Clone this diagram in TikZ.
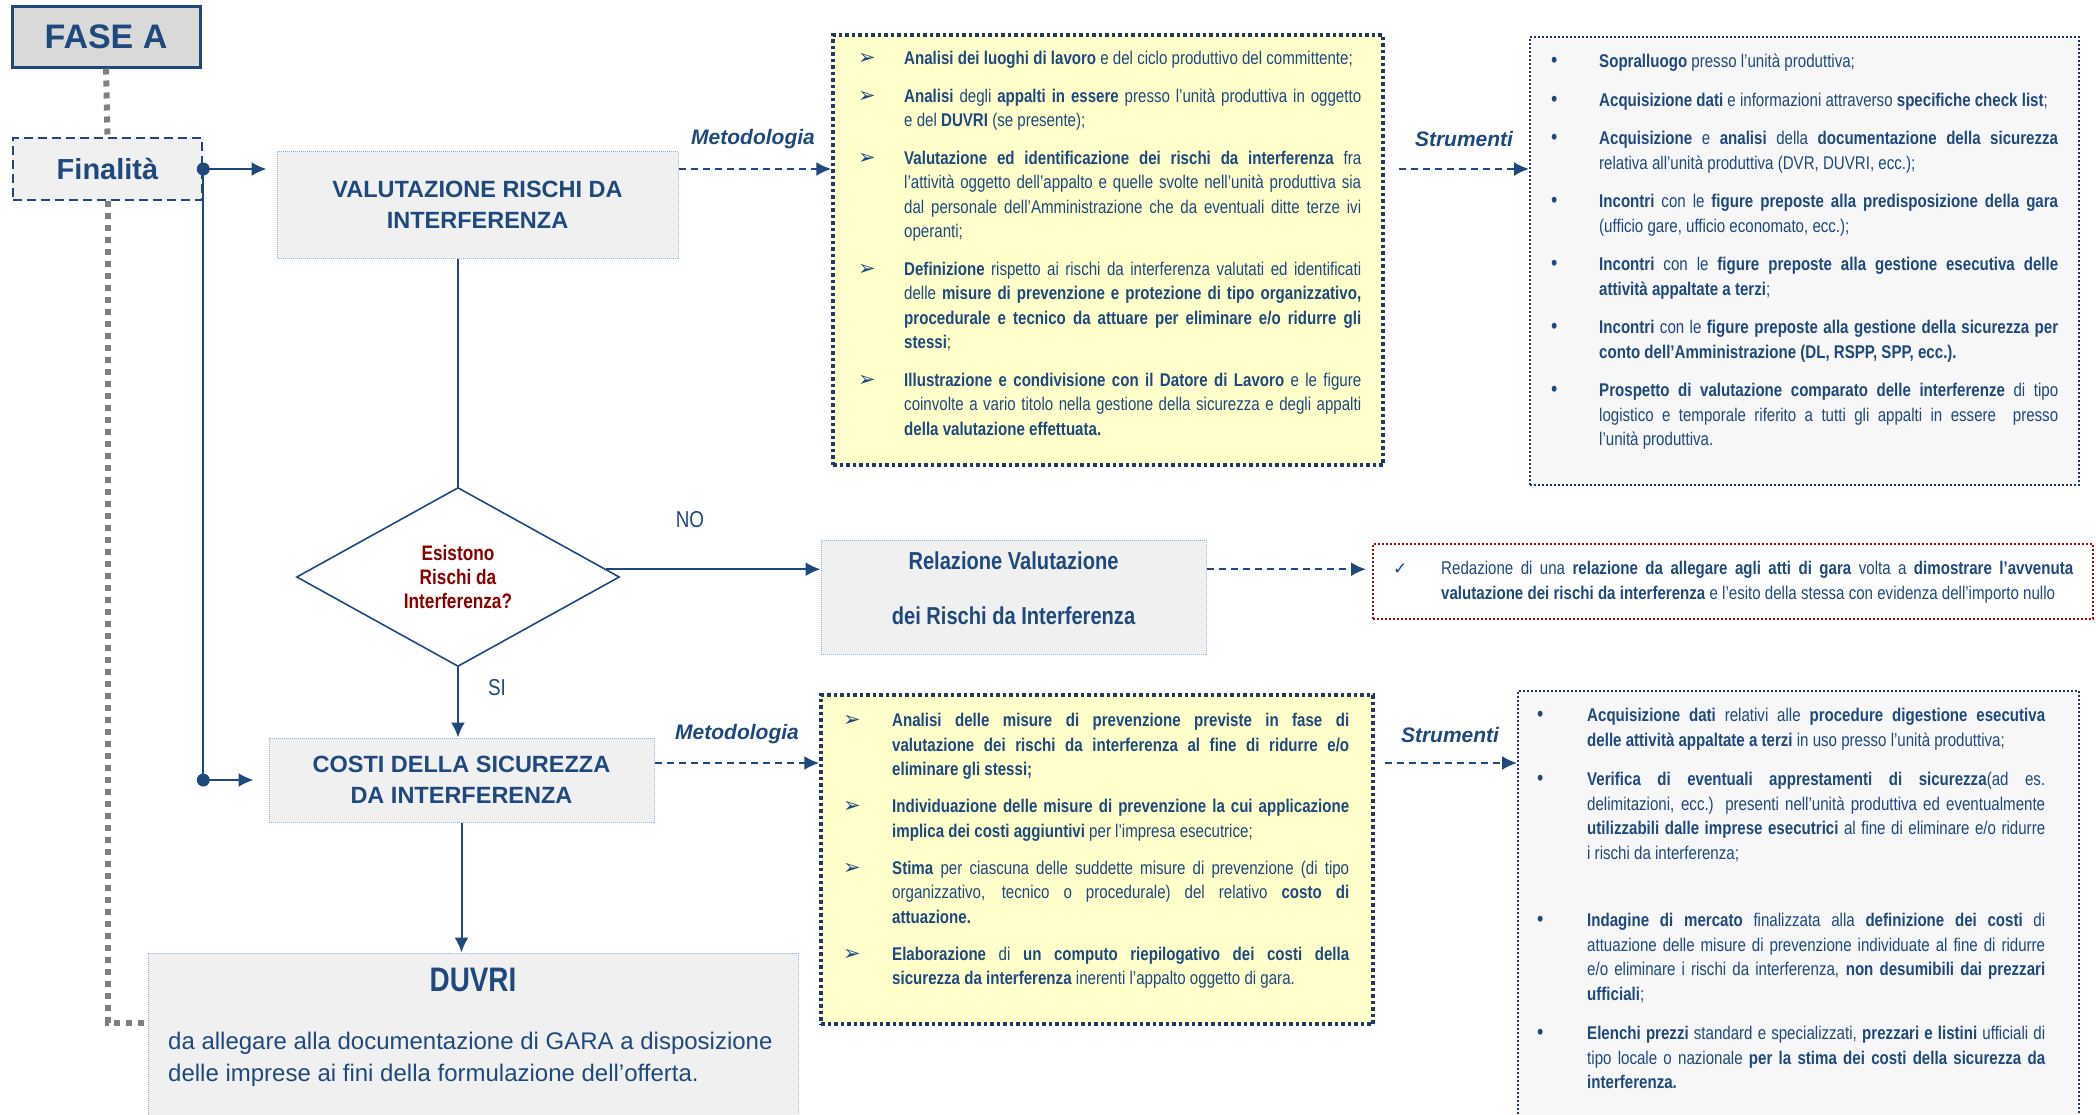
\documentclass[tikz,border=0pt]{standalone}
\usepackage{fontspec}
\setmainfont{Liberation Sans}
\newfontfamily\stretto[FakeStretch=0.82]{Liberation Sans}
\newfontfamily\simboli{DejaVu Sans}
\usetikzlibrary{arrows.meta,positioning,shapes.geometric}
\definecolor{blu}{HTML}{1F497D}
\definecolor{blunotte}{HTML}{1F3864}
\definecolor{giallino}{HTML}{FFFFCC}
\definecolor{grigino}{HTML}{F0F0F0}
\definecolor{grigiofase}{HTML}{D9D9D9}
\definecolor{bordoazzurro}{HTML}{8DB3E2}
\definecolor{rosso}{HTML}{C00000}
\definecolor{rossoscuro}{HTML}{8B0000}
\newlength{\rientro}
\newcommand{\voce}[2]{\par\hangindent=\rientro\hangafter=1\noindent\makebox[\rientro][l]{#1}#2\par}
\newcommand{\freccina}{{\simboli\fontsize{21}{21}\selectfont ➢}}
\newcommand{\pallino}{{\fontsize{22}{22}\selectfont •}}
\newcommand{\spunta}{{\simboli\fontsize{17}{17}\selectfont ✓}}
\hyphenpenalty=10000
\hbadness=10000

\begin{document}
\begin{tikzpicture}[x=1pt,y=-1pt,
box/.style={draw=bordoazzurro, densely dotted, line width=1pt, fill=grigino, text=blu, align=center, inner sep=0pt},
titolo/.style={font=\bfseries\fontsize{23.5}{31}\selectfont},
giallo/.style={draw=blunotte, fill=giallino, line width=3.5pt, dash pattern=on 3.5pt off 3pt},
strum/.style={draw=blunotte, fill=gray!6, line width=2pt, dash pattern=on 2pt off 2pt},
elenco/.style={anchor=north west, inner sep=0pt, text=blu, align=justify, text width=#1, font=\stretto\fontsize{18.4}{24.5}\selectfont},
filo/.style={draw=blu, line width=2pt},
freccia/.style={filo, -{Latex[length=15pt,width=14pt]}},
tratto/.style={freccia, dash pattern=on 7pt off 5pt},
puntini/.style={draw=gray, line width=6pt, dash pattern=on 6pt off 6pt},
etichetta/.style={text=blu, font=\bfseries\itshape\fontsize{21}{21}\selectfont}]

\useasboundingbox (0,0) rectangle (2096,1114);

\node[draw=blu, line width=3pt, fill=grigiofase, text=blu, font=\bfseries\fontsize{34}{34}\selectfont, minimum width=188, minimum height=61, inner sep=0] (fase) at (106,36.5) {FASE A};
\node[draw=blu, line width=2.5pt, dash pattern=on 9pt off 5pt, fill=grigino, text=blu, font=\bfseries\fontsize{29}{29}\selectfont, minimum width=189, minimum height=62, inner sep=0] (finalita) at (107.5,169) {Finalità};

\node[box, titolo, minimum width=401, minimum height=107] (valut) at (477.5,204.5) {VALUTAZIONE RISCHI DA\\INTERFERENZA};
\node[diamond, draw=blu, line width=1.6pt, fill=white, minimum width=323, minimum height=179, inner sep=0, text=rossoscuro, align=center, font=\stretto\bfseries\fontsize{21}{24}\selectfont] (rischi) at (458,577) {Esistono\\Rischi da\\Interferenza?};
\node[box, minimum width=385, minimum height=114, text depth=18pt, font=\stretto\bfseries\fontsize{24.5}{55}\selectfont] (relaz) at (1013.5,597) {Relazione Valutazione\\dei Rischi da Interferenza};
\node[box, titolo, minimum width=385, minimum height=84] (costi) at (461.5,780) {COSTI DELLA SICUREZZA\\DA INTERFERENZA};
\node[box, minimum width=650, minimum height=177] (duvri) at (473,1041.5) {};
\node[text=blu, font=\stretto\bfseries\fontsize{34}{34}\selectfont] (duvritit) at (473,980) {DUVRI};
\node[text=blu, anchor=west, align=left, inner sep=0, font=\fontsize{24}{32}\selectfont] (duvritesto) at (168,1059) {da allegare alla documentazione di GARA a disposizione\\delle imprese ai fini della formulazione dell’offerta.};

\node[giallo, minimum width=550, minimum height=430] (giallo1) at (1108,250) {};
\node[strum, minimum width=549, minimum height=448] (strum1) at (1804.5,261) {};
\node[draw=rosso, line width=2pt, dash pattern=on 2pt off 2pt, fill=white, minimum width=720, minimum height=75] (rossa) at (1733,581.5) {};
\node[giallo, minimum width=552, minimum height=329] (giallo2) at (1097,859.5) {};
\node[strum, minimum width=561, minimum height=449] (strum2) at (1798.5,915.5) {};

\node[elenco=503pt] (testo1) at (858,27) {\setlength{\rientro}{46pt}\setlength{\parskip}{13pt}%
\voce{\freccina}{\textbf{Analisi dei luoghi di lavoro} e del ciclo produttivo del committente;}
\voce{\freccina}{\textbf{Analisi} degli \textbf{appalti in essere} presso l’unità produttiva in oggetto\linebreak e del \textbf{DUVRI} (se presente);}
\voce{\freccina}{\textbf{Valutazione ed identificazione dei rischi da interferenza} fra\linebreak l’attività oggetto dell’appalto e quelle svolte nell’unità produttiva sia\linebreak dal personale dell’Amministrazione che da eventuali ditte terze ivi\linebreak operanti;}
\voce{\freccina}{\textbf{Definizione} rispetto ai rischi da interferenza valutati ed identificati\linebreak delle \textbf{misure di prevenzione e protezione di tipo organizzativo,\linebreak procedurale e tecnico da attuare per eliminare e/o ridurre gli\linebreak stessi};}
\voce{\freccina}{\textbf{Illustrazione e condivisione con il Datore di Lavoro} e le figure\linebreak coinvolte a vario titolo nella gestione della sicurezza e degli appalti\linebreak \textbf{della valutazione effettuata.}}};

\node[elenco=507pt] (testo2) at (1551,29) {\setlength{\rientro}{48pt}\setlength{\parskip}{14pt}%
\voce{\pallino}{\textbf{Sopralluogo} presso l’unità produttiva;}
\voce{\pallino}{\textbf{Acquisizione dati} e informazioni attraverso \textbf{specifiche check list};}
\voce{\pallino}{\textbf{Acquisizione} e \textbf{analisi} della \textbf{documentazione della sicurezza}\linebreak relativa all’unità produttiva (DVR, DUVRI, ecc.);}
\voce{\pallino}{\textbf{Incontri} con le \textbf{figure preposte alla predisposizione della gara}\linebreak (ufficio gare, ufficio economato, ecc.);}
\voce{\pallino}{\textbf{Incontri} con le \textbf{figure preposte alla gestione esecutiva delle\linebreak attività appaltate a terzi};}
\voce{\pallino}{\textbf{Incontri} con le \textbf{figure preposte alla gestione della sicurezza per\linebreak conto dell’Amministrazione (DL, RSPP, SPP, ecc.).}}
\voce{\pallino}{\textbf{Prospetto di valutazione comparato delle interferenze} di tipo\linebreak logistico e temporale riferito a tutti gli appalti in essere\ \ presso\linebreak l’unità produttiva.}};

\node[elenco=680pt] (testo3) at (1393,550) {\setlength{\rientro}{48pt}%
\voce{\spunta}{Redazione di una \textbf{relazione da allegare agli atti di gara} volta a \textbf{dimostrare l’avvenuta\linebreak valutazione dei rischi da interferenza} e l’esito della stessa con evidenza dell’importo nullo}};

\node[elenco=506pt] (testo4) at (843,689.5) {\setlength{\rientro}{49pt}\setlength{\parskip}{12.5pt}%
\voce{\freccina}{\textbf{Analisi delle misure di prevenzione previste in fase di\linebreak valutazione dei rischi da interferenza al fine di ridurre e/o\linebreak eliminare gli stessi;}}
\voce{\freccina}{\textbf{Individuazione delle misure di prevenzione la cui applicazione\linebreak implica dei costi aggiuntivi} per l’impresa esecutrice;}
\voce{\freccina}{\textbf{Stima} per ciascuna delle suddette misure di prevenzione (di tipo\linebreak organizzativo, tecnico o procedurale) del relativo \textbf{costo di\linebreak attuazione.}}
\voce{\freccina}{\textbf{Elaborazione} di \textbf{un computo riepilogativo dei costi della\linebreak sicurezza da interferenza} inerenti l’appalto oggetto di gara.}};

\node[elenco=508pt] (testo5) at (1537,682) {\setlength{\rientro}{50pt}\setlength{\parskip}{15pt}%
\voce{\pallino}{\textbf{Acquisizione dati} relativi alle \textbf{procedure digestione esecutiva\linebreak delle attività appaltate a terzi} in uso presso l’unità produttiva;}
\voce{\pallino}{\textbf{Verifica di eventuali apprestamenti di sicurezza}(ad es.\linebreak delimitazioni, ecc.) presenti nell’unità produttiva ed eventualmente\linebreak \textbf{utilizzabili dalle imprese esecutrici} al fine di eliminare e/o ridurre\linebreak i rischi da interferenza;}
\vspace{28pt}
\voce{\pallino}{\textbf{Indagine di mercato} finalizzata alla \textbf{definizione dei costi} di\linebreak attuazione delle misure di prevenzione individuate al fine di ridurre\linebreak e/o eliminare i rischi da interferenza, \textbf{non desumibili dai prezzari\linebreak ufficiali};}
\voce{\pallino}{\textbf{Elenchi prezzi} standard e specializzati, \textbf{prezzari e listini} ufficiali di\linebreak tipo locale o nazionale \textbf{per la stima dei costi della sicurezza da\linebreak interferenza.}}};

\coordinate (aggancio) at (148,1023);
\draw[puntini] (fase.south) -- (finalita.north);
\draw[puntini] (finalita.south) |- (aggancio);

\draw[freccia, shorten >=10pt] (finalita.east) -- (finalita.east -| valut.west);
\draw[freccia, shorten >=15pt] (finalita.east) |- (costi.west);
\fill[blu] (finalita.east) circle (6.5);
\fill[blu] (finalita.east |- costi.west) circle (6.5);

\draw[filo] (valut.south -| rischi) -- (rischi.north);
\draw[freccia] (rischi.3) -- (rischi.3 -| relaz.west);
\draw[freccia] (rischi.south) -- (rischi.south |- costi.north);
\draw[freccia] (costi.south) -- (costi.south |- duvri.north);
\node[text=blu, font=\stretto\fontsize{23}{23}\selectfont] (no) at (690,520) {NO};
\node[text=blu, font=\stretto\fontsize{23}{23}\selectfont] (si) at (497,688) {SI};

\draw[tratto] (valut.east |- finalita.east) -- (giallo1.west |- finalita.east);
\draw[tratto, shorten <=14pt] (giallo1.east |- finalita.east) -- (strum1.west |- finalita.east);
\draw[tratto, shorten >=6pt] (relaz.east |- rischi.3) -- (rossa.west |- rischi.3);
\draw[tratto] ([yshift=17pt]costi.east) -- ([yshift=17pt]costi.east -| giallo2.west);
\draw[tratto, shorten <=10pt] ([yshift=17pt]costi.east -| giallo2.east) -- ([yshift=17pt]costi.east -| strum2.west);

\node[etichetta] (met1) at (753,139) {Metodologia};
\node[etichetta] (str1) at (1464,139) {Strumenti};
\node[etichetta] (met2) at (737,734) {Metodologia};
\node[etichetta] (str2) at (1450,735) {Strumenti};
\end{tikzpicture}
\end{document}
